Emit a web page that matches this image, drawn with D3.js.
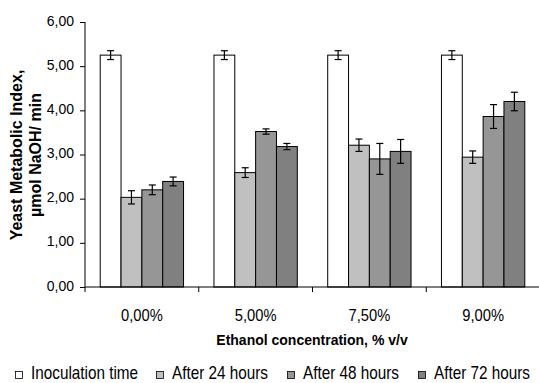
<!DOCTYPE html>
<html>
<head>
<meta charset="utf-8">
<script src="https://cdn.jsdelivr.net/npm/d3@7"></script>
<style>
  body { margin: 0; background: #fff; }
  svg { font-family: "Liberation Sans", Arial, sans-serif; }
</style>
</head>
<body>
<div id="chart"></div>
<script>
// data
const categories = ["0,00%", "5,00%", "7,50%", "9,00%"];
const series = ["Inoculation time", "After 24 hours", "After 48 hours", "After 72 hours"];
const inoculation = [5.25, 5.25, 5.25, 5.25];
const after24 = [2.03, 2.59, 3.21, 2.94];
const after48 = [2.20, 3.52, 2.90, 3.86];
const after72 = [2.39, 3.18, 3.07, 4.20];
const errInoculation = [0.10, 0.10, 0.10, 0.10];
const err24 = [0.15, 0.11, 0.14, 0.14];
const err48 = [0.11, 0.06, 0.35, 0.27];
const err72 = [0.10, 0.07, 0.27, 0.21];
const yTicks = [0, 1, 2, 3, 4, 5, 6];
const colors = ["#ffffff", "#c0c0c0", "#969696", "#808080"];

const values = [inoculation, after24, after48, after72];
const errors = [errInoculation, err24, err48, err72];

const rows = [];
categories.forEach((c, i) => {
    series.forEach((s, j) => {
        rows.push({cat: c, key: s, value: values[j][i], err: errors[j][i]});
    });
});

const W = 539, H = 383;
const margin = {top: 22, right: -1, bottom: 96, left: 85};
const width = W - margin.left - margin.right,
    height = H - margin.top - margin.bottom;

const svg = d3.select("#chart")
    .append("svg")
    .attr("width", W)
    .attr("height", H);

const g = svg.append("g")
    .attr("transform", `translate(${margin.left}, ${margin.top})`);

const x0 = d3.scaleBand()
    .domain(categories)
    .range([0, width])
    .padding(0);

const x1 = d3.scaleBand()
    .domain(series)
    .range([0, x0.bandwidth()])
    .paddingInner(0)
    .paddingOuter(0.73);

const y = d3.scaleLinear()
    .domain([0, 6])
    .range([height, 0]);

const color = d3.scaleOrdinal().domain(series).range(colors);

// y axis
const yAxis = g.append("g")
    .call(d3.axisLeft(y)
        .tickValues(yTicks)
        .tickFormat(d => d3.format(".2f")(d).replace(".", ","))
        .tickSize(5)
        .tickSizeOuter(0));
yAxis.select(".domain").remove();
yAxis.selectAll("line").attr("stroke", "#000");
yAxis.selectAll("text")
    .attr("x", -11)
    .attr("dy", "0.22em")
    .attr("fill", "#000")
    .style("font-size", "14px")
    .style("font-family", "'Liberation Sans', Arial, sans-serif");
g.append("line")
    .attr("x1", 0).attr("x2", 0)
    .attr("y1", 0).attr("y2", height + 5)
    .attr("stroke", "#000");

// bars
const groups = g.append("g")
    .selectAll("g")
    .data(categories)
    .join("g")
    .attr("transform", d => `translate(${x0(d)},0)`);

groups.selectAll("rect")
    .data(c => rows.filter(r => r.cat === c))
    .join("rect")
    .attr("x", d => x1(d.key))
    .attr("y", d => y(d.value))
    .attr("width", x1.bandwidth())
    .attr("height", d => y(0) - y(d.value))
    .attr("fill", d => color(d.key))
    .attr("stroke", "#000")
    .attr("stroke-width", 1);

// error bars
const eb = groups.selectAll("g.err")
    .data(c => rows.filter(r => r.cat === c))
    .join("g")
    .attr("class", "err")
    .attr("stroke", "#000")
    .attr("stroke-width", 1.2);
const cx = d => x1(d.key) + x1.bandwidth() / 2;
eb.append("line")
    .attr("x1", cx).attr("x2", cx)
    .attr("y1", d => y(d.value + d.err))
    .attr("y2", d => y(d.value - d.err));
eb.append("line")
    .attr("x1", d => cx(d) - 3.5).attr("x2", d => cx(d) + 3.5)
    .attr("y1", d => y(d.value + d.err))
    .attr("y2", d => y(d.value + d.err));
eb.append("line")
    .attr("x1", d => cx(d) - 3.5).attr("x2", d => cx(d) + 3.5)
    .attr("y1", d => y(d.value - d.err))
    .attr("y2", d => y(d.value - d.err));

// x axis
g.append("line")
    .attr("x1", 0).attr("x2", width)
    .attr("y1", height).attr("y2", height)
    .attr("stroke", "#000");
g.selectAll("line.xtick")
    .data(categories.slice(1))
    .join("line")
    .attr("class", "xtick")
    .attr("x1", d => x0(d)).attr("x2", d => x0(d))
    .attr("y1", height).attr("y2", height + 5)
    .attr("stroke", "#000");
g.selectAll("text.xlab")
    .data(categories)
    .join("text")
    .attr("class", "xlab")
    .attr("transform", d => `translate(${x0(d) + x0.bandwidth() / 2},${height + 34}) scale(0.92,1)`)
    .attr("text-anchor", "middle")
    .style("font-size", "16px")
    .text(d => d);

// axis titles
svg.append("text")
    .attr("x", 312)
    .attr("y", 345)
    .attr("text-anchor", "middle")
    .style("font-size", "14px")
    .style("font-weight", "bold")
    .text("Ethanol concentration, % v/v");

const yt = svg.append("text")
    .attr("transform", "translate(0,155) rotate(-90)")
    .attr("text-anchor", "middle")
    .style("font-size", "16px")
    .style("font-weight", "bold");
yt.append("tspan").attr("x", 0).attr("y", 22).text("Yeast Metabolic Index,");
yt.append("tspan").attr("x", 0).attr("y", 41).text("µmol NaOH/ min");

// legend
const legendX = [15, 156, 287, 418];
const legend = svg.append("g")
    .selectAll("g")
    .data(series)
    .join("g")
    .attr("transform", (d, i) => `translate(${legendX[i]},371)`);
legend.append("rect")
    .attr("x", 0.5).attr("y", 0.5)
    .attr("width", 7).attr("height", 7)
    .attr("fill", d => color(d))
    .attr("stroke", "#000")
    .attr("stroke-width", 0.8);
legend.append("text")
    .attr("transform", "translate(16,7.5) scale(0.85,1)")
    .style("font-size", "18px")
    .text(d => d);
</script>
</body>
</html>
